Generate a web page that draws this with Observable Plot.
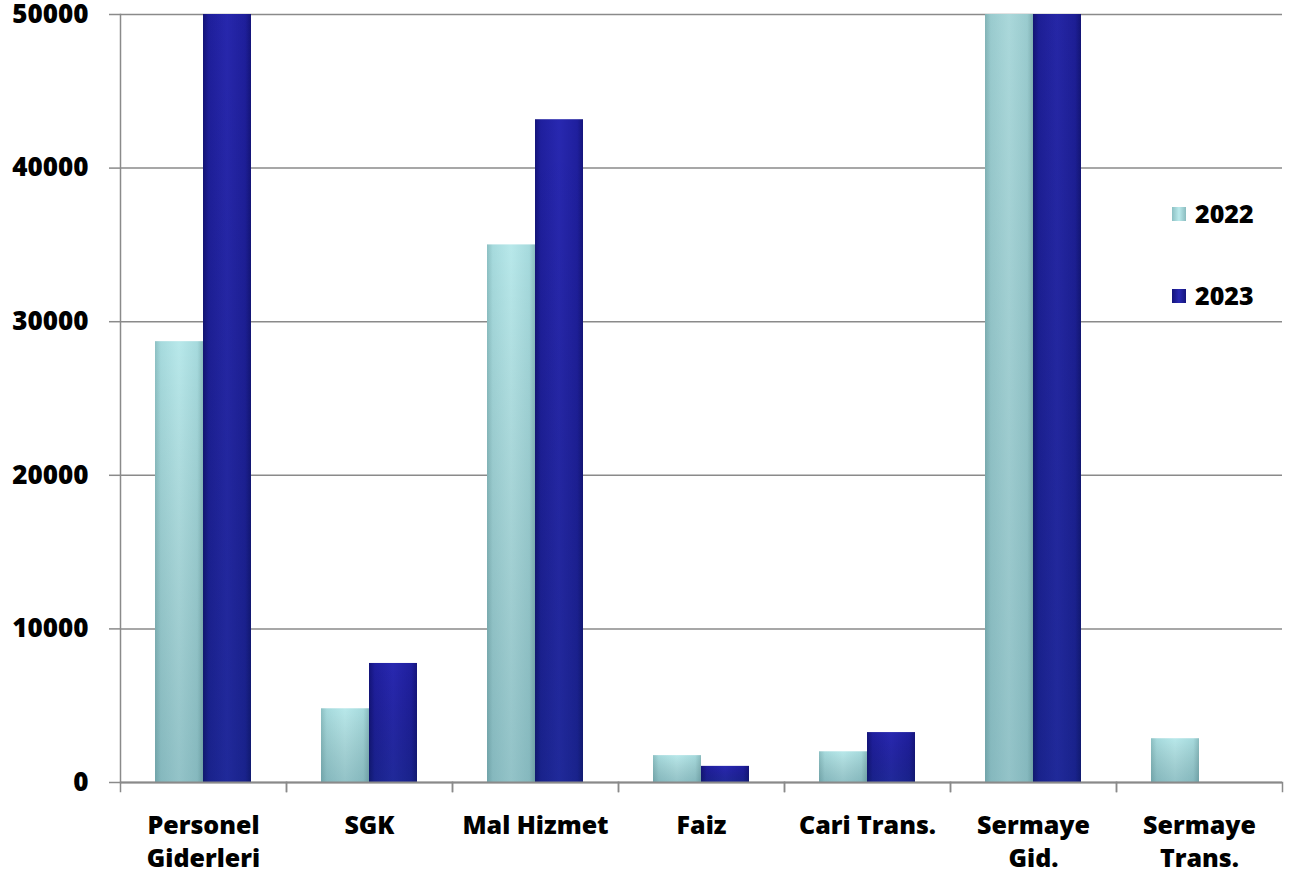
<!DOCTYPE html>
<html><head><meta charset="utf-8">
<script src="https://cdn.jsdelivr.net/npm/d3@7"></script>
<script src="https://cdn.jsdelivr.net/npm/@observablehq/plot@0.6"></script>
<style>
body{margin:0;background:#fff;}
#wrap{position:relative;width:1309px;height:883px;font-family:"Open Sans",sans-serif;font-weight:800;}
.leg{position:absolute;left:1172px;display:flex;align-items:center;font-size:25px;line-height:1;color:#000;}
.sw{width:14px;height:14px;margin-right:9px;}
</style></head><body><div id="wrap"></div>
<script>
const categories = ["Personel\nGiderleri","SGK","Mal Hizmet","Faiz","Cari Trans.","Sermaye\nGid.","Sermaye\nTrans."];
const years = ["2022","2023"];
const values2022 = [28700, 4800, 35000, 1750, 2000, 80000, 2850];
const values2023 = [56000, 7750, 43150, 1050, 3250, 75000, null];
const yTicks = [0, 10000, 20000, 30000, 40000, 50000];

const W = 1309, H = 883, mT = 14, mB = 101, mL = 118, mR = 26;
const plotH = H - mT - mB;
const gray = "#8a8a8a";
const rows = categories.flatMap((c, i) => [
  {cat: c, year: years[0], value: values2022[i]},
  {cat: c, year: years[1], value: values2023[i]}
]).filter(d => d.value != null);

const chart = Plot.plot({
  width: W, height: H, marginTop: mT, marginBottom: mB, marginLeft: mL, marginRight: mR,
  style: {fontFamily: '"Open Sans", sans-serif', fontWeight: 800, fontSize: "25px", color: "#000", background: "#fff", overflow: "visible"},
  fx: {domain: categories, padding: 0, label: null},
  x: {domain: years, paddingInner: 0, paddingOuter: 0.72, axis: null},
  y: {domain: [0, 50000]},
  color: {domain: years, range: ["url(#g2022)", "url(#g2023)"]},
  marks: [
    Plot.gridY(yTicks, {stroke: gray, strokeOpacity: 1, strokeWidth: 1.5}),
    Plot.barY(rows, {fx: "cat", x: "year", y: "value", fill: "year", clip: true}),
    Plot.barY(rows, {fx: "cat", x: "year", y: "value", fill: "url(#shade)", clip: true}),
    Plot.ruleY([0], {stroke: gray, strokeWidth: 2}),
    Plot.frame({facet: "super", anchor: "left", stroke: gray, strokeWidth: 1.5}),
    Plot.frame({anchor: "left", insetTop: plotH, insetBottom: -9, stroke: gray, strokeWidth: 1.5}),
    Plot.frame({anchor: "right", insetTop: plotH, insetBottom: -9, stroke: gray, strokeWidth: 1.5}),
    Plot.axisY(yTicks, {tickSize: 11, tickPadding: 21, stroke: gray, strokeWidth: 1.5, tickFormat: d => String(d), fontSize: 26, label: null}),
    Plot.axisFx({anchor: "bottom", tickSize: 0, tickPadding: 28, label: null, lineHeight: 1.32, fontSize: 25})
  ]
});

const defs = d3.select(chart).insert("defs", ":first-child");
function grad(id, stops, vertical) {
  const g = defs.append("linearGradient").attr("id", id)
    .attr("x1", 0).attr("y1", 0).attr("x2", vertical ? 0 : 1).attr("y2", vertical ? 1 : 0);
  stops.forEach(([o, c, a]) => g.append("stop").attr("offset", o).attr("stop-color", c).attr("stop-opacity", a == null ? 1 : a));
}
grad("g2022", [[0, "#8cc0c3"], [0.12, "#a6dadd"], [0.5, "#b8e8ea"], [0.88, "#a6dadd"], [1, "#8abcbf"]]);
grad("g2023", [[0, "#14147a"], [0.12, "#1f1f9e"], [0.5, "#2828b0"], [0.88, "#1f1f9e"], [1, "#15157c"]]);
grad("shade", [[0, "#000", 0], [1, "#003040", 0.2]], true);

const wrap = document.getElementById("wrap");
wrap.appendChild(chart);
[["2022", "linear-gradient(90deg,#8cc0c3,#bbeaec,#8abcbf)", 201], ["2023", "linear-gradient(90deg,#14147a,#2929b2,#15157c)", 283]].forEach(([t, bg, top]) => {
  const d = document.createElement("div");
  d.className = "leg";
  d.style.top = top + "px";
  d.innerHTML = `<span class="sw" style="background:${bg}"></span><span>${t}</span>`;
  wrap.appendChild(d);
});
</script></body></html>
